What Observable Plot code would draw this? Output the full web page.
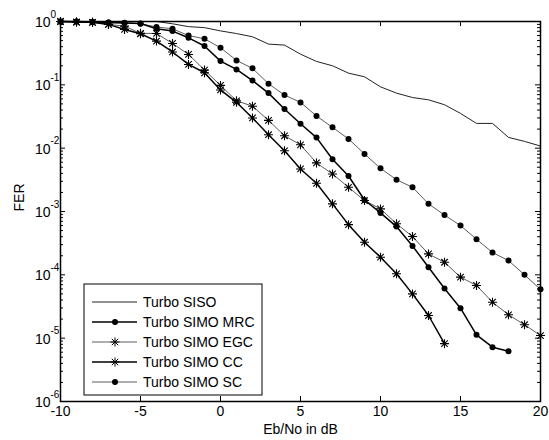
<!DOCTYPE html>
<html><head><meta charset="utf-8">
<script src="https://cdn.jsdelivr.net/npm/d3@7"></script>
<script src="https://cdn.jsdelivr.net/npm/@observablehq/plot@0.6"></script>
<style>body{margin:0;background:#fff}#chart{width:549px;height:440px}</style>
</head><body><div id="chart"></div>
<script>
// ---- data ----
const snrTo20 = [-10,-9,-8,-7,-6,-5,-4,-3,-2,-1,0,1,2,3,4,5,6,7,8,9,10,11,12,13,14,15,16,17,18,19,20];
const snrTo18 = [-10,-9,-8,-7,-6,-5,-4,-3,-2,-1,0,1,2,3,4,5,6,7,8,9,10,11,12,13,14,15,16,17,18];
const snrTo14 = [-10,-9,-8,-7,-6,-5,-4,-3,-2,-1,0,1,2,3,4,5,6,7,8,9,10,11,12,13,14];

const ferSISO = [1,1,1,1,1,1,1,0.92,0.83,0.8,0.71,0.645,0.574,0.44,0.424,0.305,0.234,0.2,0.153,0.134,0.093,0.074,0.063,0.058,0.0485,0.0354,0.0246,0.0246,0.0148,0.0128,0.0108];
const ferMRC = [1,1,0.98,0.96,0.95,0.93,0.77,0.705,0.553,0.41,0.237,0.175,0.117,0.074,0.0415,0.0243,0.0147,0.00667,0.00364,0.00152,0.00095,0.000578,0.000286,0.000132,6.1e-5,2.97e-5,1.13e-5,7.2e-6,6.2e-6];
const ferEGC = [1,0.98,0.97,0.9,0.845,0.65,0.647,0.45,0.302,0.171,0.098,0.056,0.046,0.0275,0.0157,0.0113,0.00585,0.00392,0.00241,0.00149,0.0011,0.00064,0.000402,0.000214,0.000158,9.2e-5,6.8e-5,3.7e-5,2.34e-5,1.63e-5,1.1e-5];
const ferCC = [1,0.98,0.97,0.9,0.75,0.64,0.49,0.33,0.21,0.155,0.083,0.053,0.03,0.0163,0.0091,0.0047,0.00279,0.00132,0.00062,0.000327,0.00019,0.000104,5.0e-5,2.28e-5,8.2e-6];
const ferSC = [1,1,0.98,0.96,0.955,0.92,0.82,0.767,0.6,0.533,0.385,0.243,0.182,0.104,0.069,0.0528,0.0322,0.0213,0.014,0.0081,0.0048,0.00318,0.00241,0.00132,0.00088,0.0006,0.000365,0.000225,0.000168,0.0001,5.9e-5];

const seriesNames = ["Turbo SISO","Turbo SIMO MRC","Turbo SIMO EGC","Turbo SIMO CC","Turbo SIMO SC"];
const xTicks = [-10,-5,0,5,10,15,20];
const yTicks = [1e-6,1e-5,1e-4,1e-3,1e-2,1e-1,1];
const yExponents = ["-6","-5","-4","-3","-2","-1","0"];
const xLabel = "Eb/No in dB";
const yLabel = "FER";

// ---- build tables ----
const rows = (xs, ys) => xs.map((x, i) => ({x, y: ys[i]}));
const siso = rows(snrTo20, ferSISO);
const mrc = rows(snrTo18, ferMRC);
const egc = rows(snrTo20, ferEGC);
const cc = rows(snrTo14, ferCC);
const sc = rows(snrTo20, ferSC);
const yMinor = [];
yTicks.slice(0, -1).forEach(t => { for (let k = 2; k <= 9; k++) yMinor.push(t * k); });

const starSymbol = {
  draw(ctx, size) {
    const r = Math.sqrt(size / Math.PI), d = r * 0.72;
    ctx.moveTo(-r, 0); ctx.lineTo(r, 0);
    ctx.moveTo(0, -r); ctx.lineTo(0, r);
    ctx.moveTo(-d, -d); ctx.lineTo(d, d);
    ctx.moveTo(-d, d); ctx.lineTo(d, -d);
  }
};

const GRAY = "#5c5c5c";
const styles = [
  {stroke: "#222", sw: 1, marker: null},
  {stroke: "#000", sw: 1.5, marker: "dot"},
  {stroke: GRAY, sw: 1, marker: "star"},
  {stroke: "#000", sw: 1.5, marker: "star"},
  {stroke: GRAY, sw: 1, marker: "dot"}
];

const innerW = 480, innerH = 380;

const chart = Plot.plot({
  width: 549, height: 440,
  marginLeft: 60, marginRight: 9, marginTop: 21, marginBottom: 39,
  x: {domain: [-10, 20], axis: null},
  y: {type: "log", domain: [1e-6, 1], axis: null},
  style: {fontFamily: "'Liberation Sans', Arial, sans-serif", fontSize: "14px", color: "black", background: "white"},
  marks: [
    // ticks (inward, all four sides)
    Plot.tickX(xTicks, {x: d => d, insetTop: innerH - 5, stroke: "black"}),
    Plot.tickX(xTicks, {x: d => d, insetBottom: innerH - 5, stroke: "black"}),
    Plot.tickY(yTicks, {y: d => d, insetRight: innerW - 5, stroke: "black"}),
    Plot.tickY(yTicks, {y: d => d, insetLeft: innerW - 5, stroke: "black"}),
    Plot.tickY(yMinor, {y: d => d, insetRight: innerW - 3, stroke: "black"}),
    Plot.tickY(yMinor, {y: d => d, insetLeft: innerW - 3, stroke: "black"}),
    // series
    Plot.line(siso, {x: "x", y: "y", stroke: styles[0].stroke, strokeWidth: styles[0].sw}),
    Plot.line(sc, {x: "x", y: "y", stroke: styles[4].stroke, strokeWidth: styles[4].sw}),
    Plot.dot(sc, {x: "x", y: "y", r: 3, fill: "black", stroke: "none"}),
    Plot.line(egc, {x: "x", y: "y", stroke: styles[2].stroke, strokeWidth: styles[2].sw}),
    Plot.dot(egc, {x: "x", y: "y", r: 4.5, symbol: starSymbol, fill: "none", stroke: "black", strokeWidth: 1.1}),
    Plot.line(mrc, {x: "x", y: "y", stroke: styles[1].stroke, strokeWidth: styles[1].sw}),
    Plot.dot(mrc, {x: "x", y: "y", r: 3, fill: "black", stroke: "none"}),
    Plot.line(cc, {x: "x", y: "y", stroke: styles[3].stroke, strokeWidth: styles[3].sw}),
    Plot.dot(cc, {x: "x", y: "y", r: 4.5, symbol: starSymbol, fill: "none", stroke: "black", strokeWidth: 1.1}),
    Plot.frame({stroke: "black", strokeWidth: 1.5}),
    // tick labels
    Plot.text(xTicks, {x: d => d, frameAnchor: "bottom", dy: 14, text: d => String(d)}),
    Plot.text(yTicks, {y: d => d, frameAnchor: "left", dx: -10, dy: 1, textAnchor: "end", text: () => "10"}),
    Plot.text(yTicks, {y: d => d, frameAnchor: "left", dx: -10, dy: -7, textAnchor: "start", fontSize: 10, text: (d, i) => yExponents[i]}),
    // axis titles
    Plot.text([xLabel], {frameAnchor: "bottom", dy: 32, text: d => d}),
    Plot.text([yLabel], {frameAnchor: "left", dx: -41, rotate: -90, text: d => d})
  ]
});

// ---- legend ----
const svg = d3.select(chart);
const lg = svg.append("g").attr("font-family", "'Liberation Sans', Arial, sans-serif").attr("font-size", 14).attr("text-anchor", "start");
const lx = 84, ly = 284, lw = 178, lh = 111;
lg.append("rect").attr("x", lx).attr("y", ly).attr("width", lw).attr("height", lh)
  .attr("fill", "white").attr("stroke", "black").attr("stroke-width", 1);
seriesNames.forEach((name, i) => {
  const cy = ly + 18 + i * 20, st = styles[i];
  lg.append("line").attr("x1", lx + 8).attr("x2", lx + 53).attr("y1", cy).attr("y2", cy)
    .attr("stroke", st.stroke).attr("stroke-width", st.sw);
  if (st.marker === "dot") {
    lg.append("circle").attr("cx", lx + 31).attr("cy", cy).attr("r", 3).attr("fill", "black");
  } else if (st.marker === "star") {
    lg.append("path").attr("transform", `translate(${lx + 31},${cy})`)
      .attr("d", d3.symbol(starSymbol, Math.PI * 20)()).attr("fill", "none").attr("stroke", "black");
  }
  lg.append("text").attr("x", lx + 59).attr("y", cy).attr("dy", "0.35em").attr("text-anchor", "start").text(name);
});

document.getElementById("chart").appendChild(chart);
</script>
</body></html>
